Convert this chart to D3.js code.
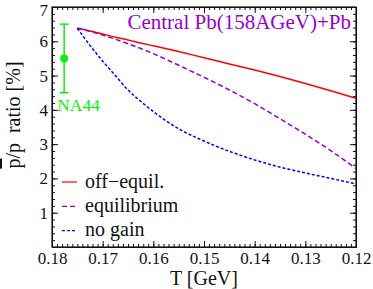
<!DOCTYPE html>
<html>
<head>
<meta charset="utf-8">
<script src="https://cdn.jsdelivr.net/npm/d3@7"></script>
<style>
    html, body { margin: 0; padding: 0; background: #fff; }
    #chart { width: 373px; height: 289px; }
    svg text { font-family: "Liberation Serif", "Times New Roman", Tinos, "DejaVu Serif", serif; }
    .axis path { stroke: #111; }
    .axis line { stroke: #111; }
</style>
</head>
<body>
<div id="chart"></div>
<script>
// temperature grid (GeV) shared by the three curves
var temps = [0.175, 0.1725, 0.17, 0.1675, 0.165, 0.1625, 0.16, 0.155, 0.15, 0.145, 0.14, 0.135, 0.13, 0.125, 0.12];
var offEquil = [6.38, 6.30, 6.21, 6.12, 6.04, 5.95, 5.87, 5.70, 5.52, 5.34, 5.16, 4.97, 4.77, 4.56, 4.34];
var equilibrium = [6.38, 6.29, 6.18, 6.06, 5.93, 5.79, 5.64, 5.30, 4.95, 4.58, 4.18, 3.74, 3.29, 2.81, 2.29];
var noGain = [6.38, 5.88, 5.42, 5.00, 4.58, 4.25, 3.95, 3.45, 3.09, 2.79, 2.54, 2.33, 2.16, 2.00, 1.84];

// NA44 measurement
var na44 = [{ t: 0.1776, v: 5.5, err: 1.0 }];

var xTicks = [0.18, 0.17, 0.16, 0.15, 0.14, 0.13, 0.12];
var yTicks = [0, 1, 2, 3, 4, 5, 6, 7];
var legendNames = ['off\u2212equil.', 'equilibrium', 'no gain'];

var series = [
    { name: legendNames[0], values: offEquil, color: '#ff0000', dash: null },
    { name: legendNames[1], values: equilibrium, color: '#9400d3', dash: '5,3' },
    { name: legendNames[2], values: noGain, color: '#0000ff', dash: '3,2' }
];

var box = { left: 52, right: 356, top: 7, bottom: 247 };
var serif = '"Liberation Serif", "Times New Roman", Tinos, "DejaVu Serif", serif';

var svg = d3.select('#chart').append('svg')
    .attr('width', 373)
    .attr('height', 289);

var xScale = d3.scaleLinear().domain([0.18, 0.12]).range([box.left, box.right]);
var yScale = d3.scaleLinear().domain([0, 7]).range([box.bottom, box.top]);

// minor tick values
var xMinor = d3.range(0, 61).map(function (i) { return 0.12 + i * 0.001; });
var yMinor = d3.range(0, 36).map(function (i) { return i * 0.2; });

function addAxis(axis, translate) {
    var g = svg.append('g')
        .attr('class', 'axis')
        .attr('transform', translate)
        .call(axis);
    g.attr('font-family', serif);
    return g;
}

// minor ticks on all four sides
addAxis(d3.axisBottom(xScale).tickValues(xMinor).tickSize(-3).tickFormat(''), 'translate(0,' + box.bottom + ')');
addAxis(d3.axisTop(xScale).tickValues(xMinor).tickSize(-3).tickFormat(''), 'translate(0,' + box.top + ')');
addAxis(d3.axisLeft(yScale).tickValues(yMinor).tickSize(-3).tickFormat(''), 'translate(' + box.left + ',0)');
addAxis(d3.axisRight(yScale).tickValues(yMinor).tickSize(-3).tickFormat(''), 'translate(' + box.right + ',0)');

// major ticks with labels
var xAxis = addAxis(d3.axisBottom(xScale).tickValues(xTicks).tickSizeInner(-6).tickSizeOuter(0)
    .tickPadding(5).tickFormat(d3.format('.2f')), 'translate(0,' + box.bottom + ')');
var yAxis = addAxis(d3.axisLeft(yScale).tickValues(yTicks).tickSizeInner(-6).tickSizeOuter(0)
    .tickPadding(4).tickFormat(d3.format('d')), 'translate(' + box.left + ',0)');
addAxis(d3.axisTop(xScale).tickValues(xTicks).tickSizeInner(-6).tickSizeOuter(0).tickFormat(''), 'translate(0,' + box.top + ')');
addAxis(d3.axisRight(yScale).tickValues(yTicks).tickSizeInner(-6).tickSizeOuter(0).tickFormat(''), 'translate(' + box.right + ',0)');

svg.selectAll('.axis text')
    .style('font-size', '17px')
    .attr('fill', '#111');
yAxis.select('.domain').remove();
yAxis.selectAll('text').filter(function (d) { return d === 0; }).remove();
// keep the top label inside the picture
yAxis.selectAll('text').filter(function (d) { return d === 7; }).attr('dy', '0.5em');

// frame
svg.append('rect')
    .attr('x', box.left)
    .attr('y', box.top)
    .attr('width', box.right - box.left)
    .attr('height', box.bottom - box.top)
    .attr('fill', 'none')
    .attr('stroke', '#111')
    .attr('stroke-width', 1.2);

// curves
var line = d3.line()
    .x(function (d) { return xScale(d[0]); })
    .y(function (d) { return yScale(d[1]); })
    .curve(d3.curveMonotoneX);

series.forEach(function (s) {
    var pts = temps.map(function (t, i) { return [t, s.values[i]]; });
    svg.append('path')
        .attr('d', line(pts))
        .attr('fill', 'none')
        .attr('stroke', s.color)
        .attr('stroke-width', 1.5)
        .attr('stroke-dasharray', s.dash);
});

// NA44 point with error bar
var green = '#11ee11';
na44.forEach(function (d) {
    var cx = xScale(d.t);
    svg.append('line')
        .attr('x1', cx).attr('x2', cx)
        .attr('y1', yScale(d.v - d.err)).attr('y2', yScale(d.v + d.err))
        .attr('stroke', green).attr('stroke-width', 1.5);
    [d.v - d.err, d.v + d.err].forEach(function (v) {
        svg.append('line')
            .attr('x1', cx - 4.5).attr('x2', cx + 4.5)
            .attr('y1', yScale(v)).attr('y2', yScale(v))
            .attr('stroke', green).attr('stroke-width', 1.5);
    });
    svg.append('circle')
        .attr('cx', cx).attr('cy', yScale(d.v))
        .attr('r', 4)
        .attr('fill', green);
    svg.append('text')
        .attr('x', cx - 7)
        .attr('y', yScale(d.v) + 53)
        .attr('fill', green)
        .attr('font-family', serif)
        .style('font-size', '17.5px')
        .text('NA44');
});

// title
svg.append('text')
    .attr('x', 351)
    .attr('y', 29)
    .attr('text-anchor', 'end')
    .attr('fill', '#9400d3')
    .attr('font-family', serif)
    .style('font-size', '21px')
    .text('Central Pb(158AGeV)+Pb');

// axis titles
svg.append('text')
    .attr('x', (box.left + box.right) / 2)
    .attr('y', 285)
    .attr('text-anchor', 'middle')
    .attr('fill', '#111')
    .attr('font-family', serif)
    .style('font-size', '20px')
    .text('T [GeV]');

var yTitle = svg.append('text')
    .attr('transform', 'translate(20,115) rotate(-90)')
    .attr('text-anchor', 'middle')
    .attr('fill', '#111')
    .attr('font-family', serif)
    .style('font-size', '20px');
yTitle.append('tspan').style('text-decoration', 'overline').text('p');
yTitle.append('tspan').text('/p\u00a0\u00a0ratio [%]');

// legend
var legend = svg.append('g').attr('transform', 'translate(62,182)');
series.forEach(function (s, i) {
    var row = legend.append('g').attr('transform', 'translate(0,' + (i * 24.3) + ')');
    row.append('line')
        .attr('x1', 0).attr('x2', 15)
        .attr('y1', 0).attr('y2', 0)
        .attr('stroke', s.color)
        .attr('stroke-width', 1.2)
        .attr('stroke-dasharray', s.dash);
    row.append('text')
        .attr('x', 23)
        .attr('y', 5.5)
        .attr('fill', '#111')
        .attr('font-family', serif)
        .style('font-size', '20px')
        .text(s.name);
});
</script>
</body>
</html>
